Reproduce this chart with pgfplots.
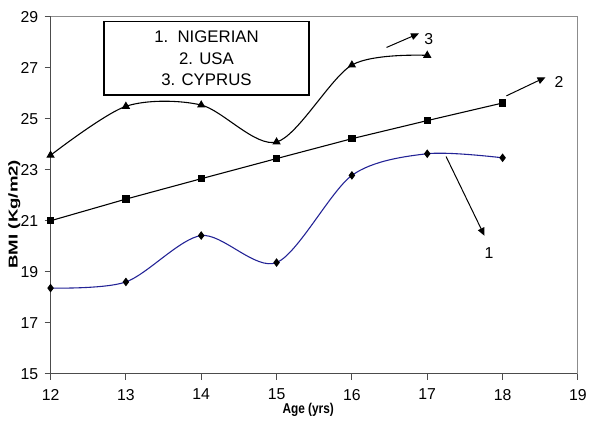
\documentclass[border=0pt]{standalone}
\usepackage{pgfplots}
\pgfplotsset{compat=1.18}
\usepackage{fontspec}
\setmainfont{Liberation Sans}
\usetikzlibrary{calc,arrows.meta}
\definecolor{nigblue}{RGB}{35,35,150}
\begin{document}
\begin{tikzpicture}
\begin{axis}[
  scale only axis, width=532bp, height=360bp,
  xmin=12, xmax=19, ymin=15, ymax=29,
  xtick={12,13,...,19}, ytick={15,17,...,29},
  axis x line*=bottom, axis y line*=left,
  axis line style={draw=black!70, line width=1bp, -},
  tick style={draw=black!70, line width=1bp},
  tick align=outside, major tick length=6bp,
  ticklabel style={font=\fontsize{16}{16}\selectfont},
  /pgf/number format/assume math mode=true,
  xticklabel style={yshift=-6bp},
  yticklabel style={xshift=-3bp},
  clip=false,
]
\draw[black!45, line width=1bp] (rel axis cs:0,1) -- (rel axis cs:1,1) -- (rel axis cs:1,0);

\addplot[nigblue, line width=1.1bp, smooth, mark=diamond*, mark size=3.5bp, mark options={black, fill=black}] coordinates {
(12,18.36) (13,18.60) (14,20.42) (15,19.36) (16,22.78) (17,23.63) (18,23.47)};
\addplot[black, line width=1.1bp, mark=square*, mark size=3.2bp, mark options={fill=black}] coordinates {
(12,21.00) (13,21.85) (14,22.65) (15,23.44) (16,24.22) (17,24.93) (18,25.62)};
\addplot[black, line width=1.1bp, smooth, mark=triangle*, mark size=3.8bp, mark options={fill=black}] coordinates {
(12,23.57) (13,25.49) (14,25.54) (15,24.09) (16,27.11) (17,27.49)};

% legend box
\draw[black, line width=1.3bp] (axis cs:12.71,25.93) rectangle (axis cs:15.43,28.81);
\node[align=center, font=\fontsize{17}{22}\selectfont] at (axis cs:14.07,27.37) {1.\ \ NIGERIAN\\2. USA\\3. CYPRUS};

% arrows
\draw[black, line width=1bp, -{Triangle[length=8bp,width=7bp]}] (axis cs:16.46,27.8) -- (axis cs:16.89,28.35);
\node[font=\fontsize{16}{16}\selectfont] at (axis cs:17.02,28.12) {3};
\draw[black, line width=1bp, -{Triangle[length=8bp,width=7bp]}] (axis cs:18.05,25.9) -- (axis cs:18.57,26.63);
\node[font=\fontsize{16}{16}\selectfont] at (axis cs:18.75,26.45) {2};
\draw[black, line width=1bp, -{Triangle[length=8bp,width=7bp]}] (axis cs:17.25,23.52) -- (axis cs:17.76,20.41);
\node[font=\fontsize{16}{16}\selectfont] at (axis cs:17.82,19.72) {1};

% axis labels
\node[rotate=90, font=\bfseries\fontsize{13}{13}\selectfont] at (axis cs:11.52,21.26) {\scalebox{1.45}[1]{BMI (Kg/m2)}};
\node[font=\bfseries\fontsize{12}{12}\selectfont] at (axis cs:15.42,13.6) {\scalebox{1}[1.2]{Age (yrs)}};
\end{axis}
\path[use as bounding box] ($(current axis.south west)+(-51bp,-47bp)$) rectangle ($(current axis.north east)+(7bp,17bp)$);
\end{tikzpicture}
\end{document}
